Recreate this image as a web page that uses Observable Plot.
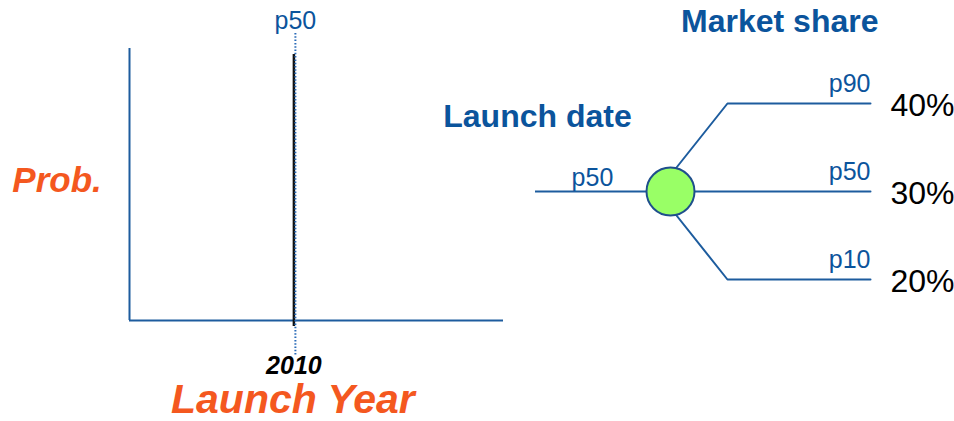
<!DOCTYPE html>
<html>
<head>
<meta charset="utf-8">
<script src="https://cdn.jsdelivr.net/npm/d3@7"></script>
<script src="https://cdn.jsdelivr.net/npm/@observablehq/plot@0.6"></script>
<style>
  body { margin: 0; background: #fff; }
  #chart { position: relative; width: 954px; height: 421px; overflow: hidden; }
  #chart svg { position: absolute; top: 0; }
</style>
</head>
<body>
<div id="chart"></div>
<script>
// Launch timing: a single point estimate on the year axis
const launchYear = 2010;
const launchPercentile = "p50";
const yearAxisDomain = [2006, 2015.1];
const probDomain = [0, 1];

// Market-share outcomes branching from the launch-date node
const branchPercentiles = ["p90", "p50", "p10"];
const marketShares = [40, 30, 20];

const titles = {
  prob: "Prob.",
  year: "Launch Year",
  launch: "Launch date",
  share: "Market share"
};

const font = '"Liberation Sans", Arial, Helvetica, sans-serif';
const blue = "#0b549c";
const lineBlue = "#1d5c9e";
const dotBlue = "#2a6bb8";
const orange = "#f4581f";
const green = "#99ff66";

const branches = branchPercentiles.map((p, i) => ({percentile: p, share: marketShares[i]}));
const baseShare = marketShares[branchPercentiles.indexOf(launchPercentile)];

// ---- Left panel: probability vs launch year ----
const left = Plot.plot({
  width: 520,
  height: 421,
  marginLeft: 129,
  marginRight: 17,
  marginTop: 48,
  marginBottom: 101,
  style: {fontFamily: font, background: "transparent", overflow: "visible"},
  x: {domain: yearAxisDomain},
  y: {domain: probDomain, axis: null},
  marks: [
    Plot.ruleY([probDomain[0]], {stroke: lineBlue, strokeWidth: 2}),
    Plot.ruleX([yearAxisDomain[0]], {stroke: lineBlue, strokeWidth: 2}),
    Plot.ruleX([launchYear], {stroke: "#111", strokeWidth: 2.5, insetTop: 6, insetBottom: -6}),
    Plot.ruleX([launchYear], {stroke: dotBlue, strokeWidth: 2, strokeDasharray: "1.5 1.8", dx: 1.5, insetTop: -15, insetBottom: -35}),
    Plot.axisX([launchYear], {
      tickSize: 0, tickPadding: 36, tickFormat: d => String(d), label: null,
      fontSize: 25, fontWeight: "bold", fontStyle: "italic", fill: "#000"
    }),
    Plot.text([launchPercentile], {
      x: launchYear, frameAnchor: "top", dy: -28, dx: 1.5,
      lineAnchor: "middle", fontSize: 25, fill: blue
    }),
    Plot.text([titles.year], {
      x: launchYear, frameAnchor: "bottom", dy: 79, dx: -1,
      lineAnchor: "middle", fontSize: 41, fontWeight: "bold", fontStyle: "italic", fill: orange
    }),
    Plot.text([titles.prob], {
      frameAnchor: "left", dx: -72.5, dy: -4,
      textAnchor: "middle", lineAnchor: "middle",
      fontSize: 35, fontWeight: "bold", fontStyle: "italic", fill: orange
    })
  ]
});
left.style.left = "0px";

// ---- Right panel: chance node with market-share branches ----
// Horizontal stages of the tree, as fractions of its width
const treeX = {start: 0, inLabel: 0.17, root: 0.364, node: 0.403, knee: 0.573, end: 1};

const branchPaths = branches.flatMap(b => [
  {branch: b.percentile, x: treeX.root, y: baseShare},
  {branch: b.percentile, x: treeX.knee, y: b.share},
  {branch: b.percentile, x: treeX.end, y: b.share}
]);

const right = Plot.plot({
  width: 524,
  height: 421,
  marginLeft: 105,
  marginRight: 84,
  marginTop: 103,
  marginBottom: 142,
  style: {fontFamily: font, background: "transparent", overflow: "visible"},
  x: {domain: [0, 1], axis: null},
  y: {domain: d3.extent(marketShares), axis: null},
  marks: [
    Plot.ruleY([baseShare], {x1: treeX.start, x2: treeX.node, stroke: lineBlue, strokeWidth: 2}),
    Plot.line(branchPaths, {x: "x", y: "y", z: "branch", stroke: lineBlue, strokeWidth: 2, curve: "linear"}),
    Plot.dot([{x: treeX.node, y: baseShare}], {x: "x", y: "y", r: 24, fill: green, stroke: "#1f4f8c", strokeWidth: 2}),
    Plot.text([launchPercentile], {
      x: treeX.inLabel, y: baseShare, dy: -14,
      lineAnchor: "middle", fontSize: 25, fill: blue
    }),
    Plot.text(branches, {
      x: treeX.end, y: "share", text: "percentile", dy: -20,
      textAnchor: "end", lineAnchor: "middle", fontSize: 25, fill: blue
    }),
    Plot.text(branches, {
      x: treeX.end, y: "share", text: d => `${d.share}%`, dx: 20, dy: 2,
      textAnchor: "start", lineAnchor: "middle", fontSize: 32, fill: "#000"
    }),
    Plot.text([titles.launch], {
      x: treeX.start, y: d3.max(marketShares), dx: 2, dy: 13,
      textAnchor: "middle", lineAnchor: "middle", fontSize: 32, fontWeight: "bold", fill: blue
    }),
    Plot.text([titles.share], {
      x: treeX.end, y: d3.max(marketShares), dx: 8, dy: -82,
      textAnchor: "end", lineAnchor: "middle", fontSize: 32, fontWeight: "bold", fill: blue
    })
  ]
});
right.style.left = "430px";

const chart = document.getElementById("chart");
chart.append(left, right);
</script>
</body>
</html>
